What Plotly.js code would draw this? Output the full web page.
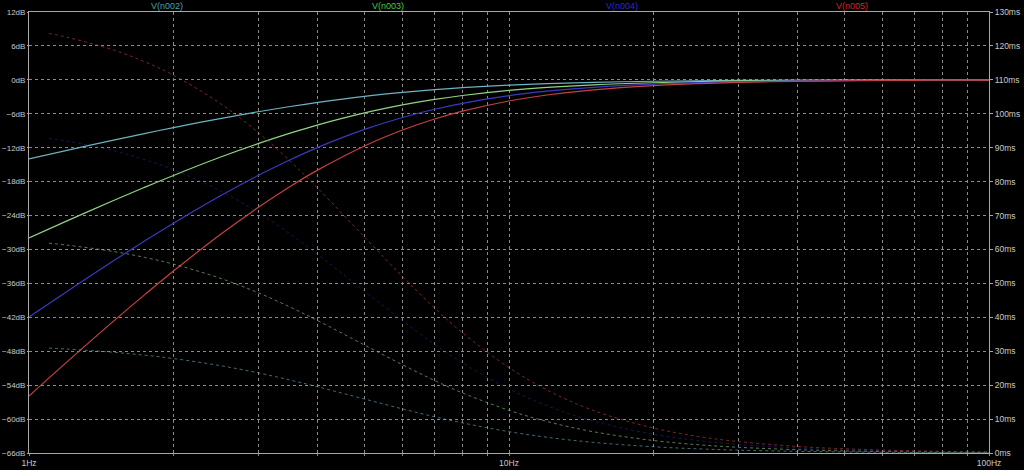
<!DOCTYPE html>
<html>
<head>
<meta charset="utf-8">
<script src="https://cdn.plot.ly/plotly-3.0.1.min.js"></script>
<style>html,body{margin:0;padding:0;background:#000;}#chart{width:1024px;height:470px;}</style>
</head>
<body>
<div id="chart"></div>
<script>
// Frequencies (Hz)
const freqMag = [1, 1.2, 1.5, 1.75, 2, 2.5, 3, 3.5, 4, 5, 6, 7, 8, 10, 12, 15, 20, 25, 30, 40, 50, 60, 70, 80, 100];
const freqDelay = [1.1, 1.2, 1.5, 1.75, 2, 2.5, 3, 3.5, 4, 5, 6, 7, 8, 10, 12, 15, 20, 25, 30, 40, 50, 60, 70, 80, 100];

// Magnitude (dB)
const magN002 = [-13.98, -12.47, -10.67, -9.46, -8.45, -6.85, -5.64, -4.71, -3.98, -2.92, -2.22, -1.73, -1.38, -0.93, -0.67, -0.44, -0.25, -0.16, -0.11, -0.06, -0.04, -0.03, -0.02, -0.02, -0.01];
const magN003 = [-27.96, -24.94, -21.34, -18.93, -16.91, -13.70, -11.29, -9.43, -7.96, -5.85, -4.44, -3.46, -2.77, -1.87, -1.34, -0.88, -0.51, -0.33, -0.23, -0.13, -0.08, -0.06, -0.04, -0.03, -0.02];
const magN004 = [-41.94, -37.42, -32.01, -28.39, -25.36, -20.55, -16.93, -14.14, -11.94, -8.77, -6.66, -5.20, -4.15, -2.80, -2.01, -1.32, -0.76, -0.49, -0.34, -0.19, -0.12, -0.09, -0.06, -0.05, -0.03];
const magN005 = [-55.92, -49.89, -42.68, -37.86, -33.81, -27.40, -22.58, -18.85, -15.92, -11.69, -8.88, -6.93, -5.54, -3.74, -2.68, -1.76, -1.01, -0.66, -0.46, -0.26, -0.17, -0.12, -0.08, -0.07, -0.04];

// Group delay (ms)
const gdN002 = [30.92, 30.64, 29.70, 28.80, 27.84, 25.77, 23.63, 21.51, 19.49, 15.91, 13.00, 10.68, 8.86, 6.29, 4.64, 3.13, 1.84, 1.20, 0.84, 0.48, 0.31, 0.22, 0.16, 0.12, 0.08];
const gdN003 = [61.84, 61.28, 59.40, 57.60, 55.68, 51.54, 47.26, 43.02, 38.98, 31.82, 26.00, 21.36, 17.72, 12.58, 9.28, 6.26, 3.68, 2.40, 1.69, 0.96, 0.62, 0.43, 0.32, 0.24, 0.16];
const gdN004 = [92.76, 91.92, 89.10, 86.40, 83.52, 77.31, 70.89, 64.53, 58.47, 47.73, 39.00, 32.04, 26.58, 18.87, 13.92, 9.39, 5.52, 3.60, 2.53, 1.44, 0.93, 0.65, 0.47, 0.36, 0.23];
const gdN005 = [123.68, 122.56, 118.80, 115.20, 111.36, 103.08, 94.52, 86.04, 77.96, 63.64, 52.00, 42.72, 35.44, 25.16, 18.56, 12.52, 7.36, 4.80, 3.38, 1.92, 1.24, 0.86, 0.63, 0.48, 0.31];

const traceNames = ['V(n002)', 'V(n003)', 'V(n004)', 'V(n005)'];
const lineColors = ['#6db3c2', '#8fd483', '#3a3ac0', '#c84040'];
const labelColors = ['#3fa6ad', '#45c845', '#2a2ad0', '#d02828'];

const xTickVals = [1,2,3,4,5,6,7,8,9,10,20,30,40,50,60,70,80,90,100];
const xTickText = ['1Hz','','','','','','','','','10Hz','','','','','','','','','100Hz'];

const mags = [magN002, magN003, magN004, magN005];
const gds = [gdN002, gdN003, gdN004, gdN005];

const data = [];
gds.forEach((g, i) => {
  data.push({x: freqDelay, y: g, yaxis: 'y2', type: 'scatter', mode: 'lines',
    line: {color: lineColors[i], width: 1, dash: 'dot', shape: 'spline'}, opacity: i === 2 ? 0.4 : 0.6,
    name: traceNames[i] + ' delay', showlegend: false, hoverinfo: 'skip'});
});
mags.forEach((m, i) => {
  data.push({x: freqMag, y: m, type: 'scatter', mode: 'lines',
    line: {color: lineColors[i], width: 1.2, shape: 'spline'},
    name: traceNames[i], showlegend: false});
});

const axisFont = {family: 'Liberation Sans, Arial, sans-serif', size: 8.5, color: '#c8c8c8'};
const leftFont = {family: 'Liberation Sans, Arial, sans-serif', size: 8, color: '#c8c8c8'};
const annots = traceNames.map((t, i) => ({
  text: t, xref: 'paper', yref: 'paper', x: [0.125, 0.374, 0.618, 0.876][i], y: 1, yanchor: 'bottom', yshift: -1,
  showarrow: false, font: {family: 'Liberation Sans, Arial, sans-serif', size: 9, color: labelColors[i]}
}));

const layout = {
  width: 1024, height: 470,
  paper_bgcolor: '#000', plot_bgcolor: '#000',
  margin: {l: 29, r: 35, t: 12, b: 17, pad: 0},
  showlegend: false,
  xaxis: {type: 'log', range: [0, 2], tickvals: xTickVals, ticktext: xTickText,
    showgrid: true, gridcolor: '#8a8a8a', griddash: 'dot', gridwidth: 1,
    showline: true, linecolor: '#a8a8a8', linewidth: 1, mirror: true,
    ticks: 'outside', ticklen: 2, tickcolor: '#8a8a8a', tickfont: axisFont, zeroline: false},
  yaxis: {range: [-66, 12], dtick: 6, tick0: 0, ticksuffix: 'dB',
    showgrid: true, gridcolor: '#8a8a8a', griddash: 'dot', gridwidth: 1,
    showline: true, linecolor: '#a8a8a8', linewidth: 1,
    ticks: 'outside', ticklen: 1, tickcolor: '#a8a8a8', tickfont: leftFont, zeroline: false},
  yaxis2: {range: [0, 130], dtick: 10, tick0: 0, ticksuffix: 'ms', overlaying: 'y', side: 'right',
    showgrid: false, showline: true, linecolor: '#a8a8a8', linewidth: 1,
    ticks: 'outside', ticklen: 3, tickcolor: '#a8a8a8', tickfont: axisFont, zeroline: false},
  annotations: annots
};

Plotly.newPlot('chart', data, layout, {displayModeBar: false, staticPlot: true});
</script>
</body>
</html>
